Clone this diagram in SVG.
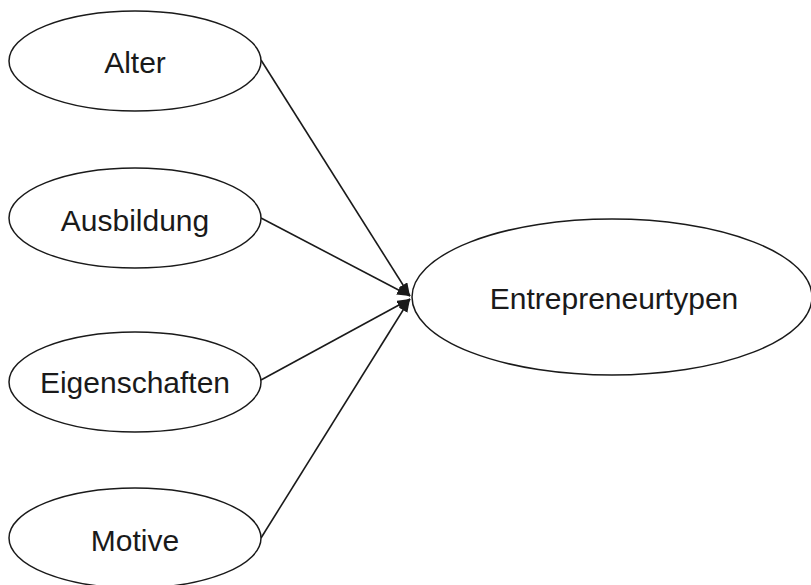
<svg xmlns="http://www.w3.org/2000/svg" width="811" height="585" viewBox="0 0 811 585">
<style>
.n ellipse{fill:#fff;stroke:#1a1a1a;stroke-width:1.5}
.n text{font-family:"Liberation Sans",Arial,sans-serif;font-size:30px;fill:#1a1a1a;text-anchor:middle}
.c line{stroke:#1a1a1a;stroke-width:1.6}
</style>
<defs>
<marker id="ah" markerUnits="userSpaceOnUse" markerWidth="14" markerHeight="11" refX="13" refY="5" orient="auto">
<path d="M0,0 L13,5 L0,10 z" fill="#1a1a1a"/>
</marker>
</defs>
<rect width="811" height="585" fill="#fff"/>
<g class="c" id="connectors">
<line x1="261" y1="60" x2="410" y2="296" marker-end="url(#ah)"/>
<line x1="261" y1="218" x2="410" y2="296" marker-end="url(#ah)"/>
<line x1="261" y1="380" x2="410" y2="299" marker-end="url(#ah)"/>
<line x1="261" y1="538" x2="410" y2="299" marker-end="url(#ah)"/>
</g>
<g class="n" id="alter"><ellipse cx="135" cy="61" rx="126" ry="50"/><text x="135" y="73">Alter</text></g>
<g class="n" id="ausbildung"><ellipse cx="135" cy="218" rx="126" ry="50"/><text x="135" y="231">Ausbildung</text></g>
<g class="n" id="eigenschaften"><ellipse cx="135" cy="382" rx="126" ry="50"/><text x="135" y="393">Eigenschaften</text></g>
<g class="n" id="motive"><ellipse cx="135" cy="538" rx="126" ry="50"/><text x="135" y="551">Motive</text></g>
<g class="n" id="entrepreneurtypen"><ellipse cx="612" cy="297" rx="200" ry="78"/><text x="614" y="309">Entrepreneurtypen</text></g>
</svg>
